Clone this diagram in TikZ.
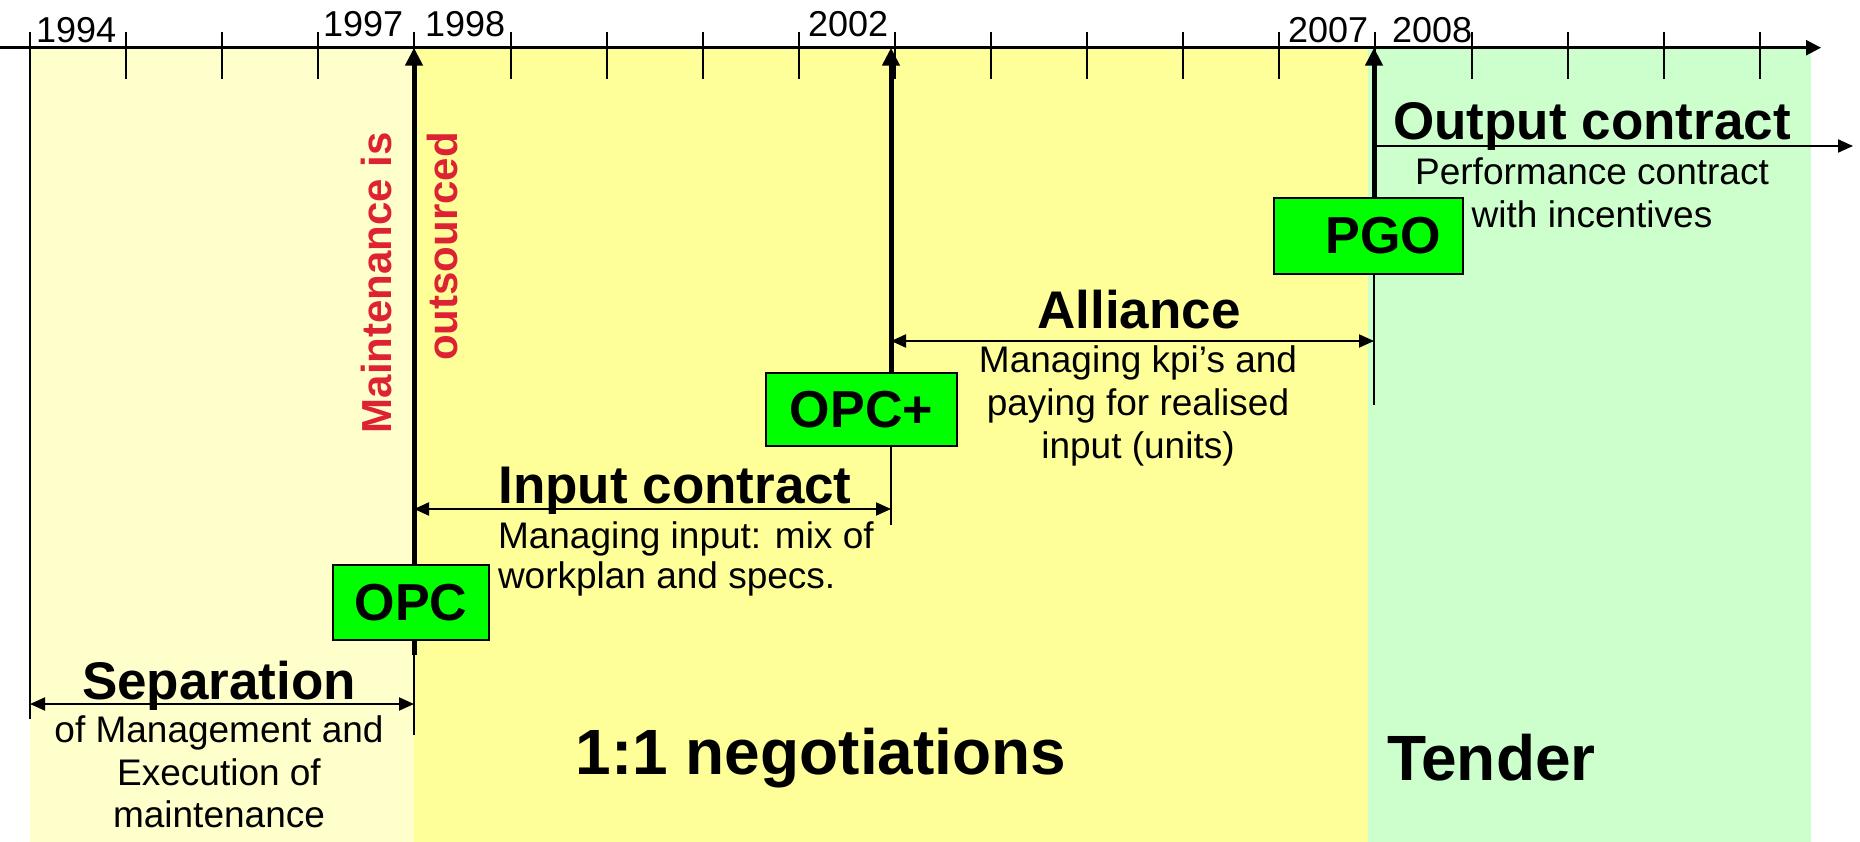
\documentclass[tikz,border=0pt]{standalone}
\usepackage{fontspec}
\setmainfont{Liberation Sans}
\usetikzlibrary{arrows.meta}
\definecolor{lyel}{HTML}{FFFFCC}
\definecolor{yel}{HTML}{FFFF99}
\definecolor{lgrn}{HTML}{CCFFCC}
\definecolor{boxg}{HTML}{00FF00}
\definecolor{redt}{RGB}{221,34,51}
\newcommand\fsz[1]{\fontsize{#1pt}{#1pt}\selectfont}
\begin{document}
\begin{tikzpicture}[x=1pt,y=-1pt,
  lbl/.style={inner sep=0pt, outer sep=0pt},
  year/.style={lbl, anchor=base west, font=\fsz{36}},
  headtxt/.style={lbl, anchor=base, font=\bfseries\fsz{53}},
  desc/.style={lbl, anchor=base, font=\fsz{37}},
  bigtxt/.style={lbl, anchor=base, font=\bfseries\fsz{64}},
  vtext/.style={lbl, rotate=90, anchor=base east, text=redt, font=\bfseries\fsz{42}},
  gbox/.style={draw=black, line width=1.5pt, fill=boxg, inner sep=0pt, font=\bfseries\fsz{52}},
  axisline/.style={line width=2.5pt, -{Triangle[length=15pt,width=15pt]}},
  tickline/.style={line width=2pt},
  barline/.style={line width=5pt},
  bararrow/.style={barline, -{Triangle[length=18pt,width=17pt]}},
  thinline/.style={line width=2pt},
  spanarrow/.style={line width=2pt, {Triangle[length=15pt,width=13pt]}-{Triangle[length=15pt,width=13pt]}},
  onearrow/.style={line width=2pt, -{Triangle[length=15pt,width=13pt]}},
]
\useasboundingbox (0,0) rectangle (1860,842);
% backgrounds
\fill[lyel] (30,47.7) rectangle (414,842);
\fill[yel] (414,47.7) rectangle (1368,842);
\fill[lgrn] (1368,47.7) rectangle (1811,842);

% axis
\coordinate (axL) at (0,47.7);
\coordinate (axR) at (1821,47.7);
\draw[axisline] (axL) -- (axR);
\foreach \i in {1,...,18} \draw[tickline] ({30+96.1*\i},32) -- ({30+96.1*\i},79);
\coordinate (lt) at (30,32);
\coordinate (lb) at (30,719);
\draw[tickline] (lt) -- (lb);

% year labels
\node[year] (y94) at (36,43) {1994};
\node[year] (y97) at (323,37) {1997};
\node[year] (y98) at (425,37) {1998};
\node[year] (y02) at (808,37) {2002};
\node[year] (y07) at (1288,43) {2007};
\node[year] (y08) at (1392,43) {2008};

% event coordinates
\coordinate (ev97) at (414,47.7);
\coordinate (ev02) at (891,47.7);
\coordinate (ev07) at (1374,47.7);

% boxes
\node[gbox, minimum width=156pt, minimum height=75pt] (OPC) at (411,602.5) {OPC};
\node[gbox, minimum width=191pt, minimum height=73pt] (OPCp) at (861.5,409.5) {OPC+};
\node[gbox, minimum width=189pt, minimum height=76pt] (PGO) at (1368.5,236) {\hspace*{30pt}PGO};

% 1997 event
\draw[bararrow] (OPC.north -| ev97) -- (ev97);
\coordinate (b97) at (414,655);
\coordinate (c97) at (414,735);
\draw[barline] (OPC.south -| ev97) -- (b97);
\draw[thinline] (b97) -- (c97);

% 2002 event
\draw[bararrow] (OPCp.north -| ev02) -- (ev02);
\coordinate (c02) at (891,525);
\draw[thinline] (OPCp.south -| ev02) -- (c02);

% 2007 event
\draw[bararrow] (PGO.north -| ev07) -- (ev07);
\coordinate (c07) at (1374,405);
\draw[thinline] (PGO.south -| ev07) -- (c07);

% span arrows
\coordinate (sepL) at (30,704);
\coordinate (sepR) at (414,704);
\draw[spanarrow] (sepL) -- (sepR);
\coordinate (inL) at (414,509);
\coordinate (inR) at (891,509);
\draw[spanarrow] (inL) -- (inR);
\coordinate (alL) at (891,341);
\coordinate (alR) at (1374,341);
\draw[spanarrow] (alL) -- (alR);
\coordinate (outL) at (1374,146);
\coordinate (outR) at (1853,146);
\draw[onearrow] (outL) -- (outR);

% vertical red text
\node[vtext] (mt1) at (391,132) {Maintenance is};
\node[vtext] (mt2) at (457,132) {outsourced};

% headings
\node[headtxt] (hsep) at (219,699) {Separation};
\node[headtxt] (hin) at (675,503) {Input contract};
\node[headtxt] (hal) at (1139,328) {Alliance};
\node[headtxt] (hout) at (1592,140) {Output contract};

% descriptions
\node[desc] (ds1) at (219,742) {of Management and};
\node[desc] (ds2) at (219,785) {Execution of};
\node[desc] (ds3) at (219,827) {maintenance};
\node[desc, anchor=base west] (di1) at (498,548) {Managing input: mix of};
\node[desc, anchor=base west] (di2) at (498,588) {workplan and specs.};
\node[desc] (da1) at (1138,372) {Managing kpi’s and};
\node[desc] (da2) at (1138,415) {paying for realised};
\node[desc] (da3) at (1138,458) {input (units)};
\node[desc] (do1) at (1592,185) {Performance contract};
\node[desc] (do2) at (1592,228) {with incentives};

% big labels
\node[bigtxt] (neg) at (821,774) {1:1 negotiations};
\node[bigtxt, anchor=base west] (tend) at (1387,780) {Tender};
\end{tikzpicture}
\end{document}
